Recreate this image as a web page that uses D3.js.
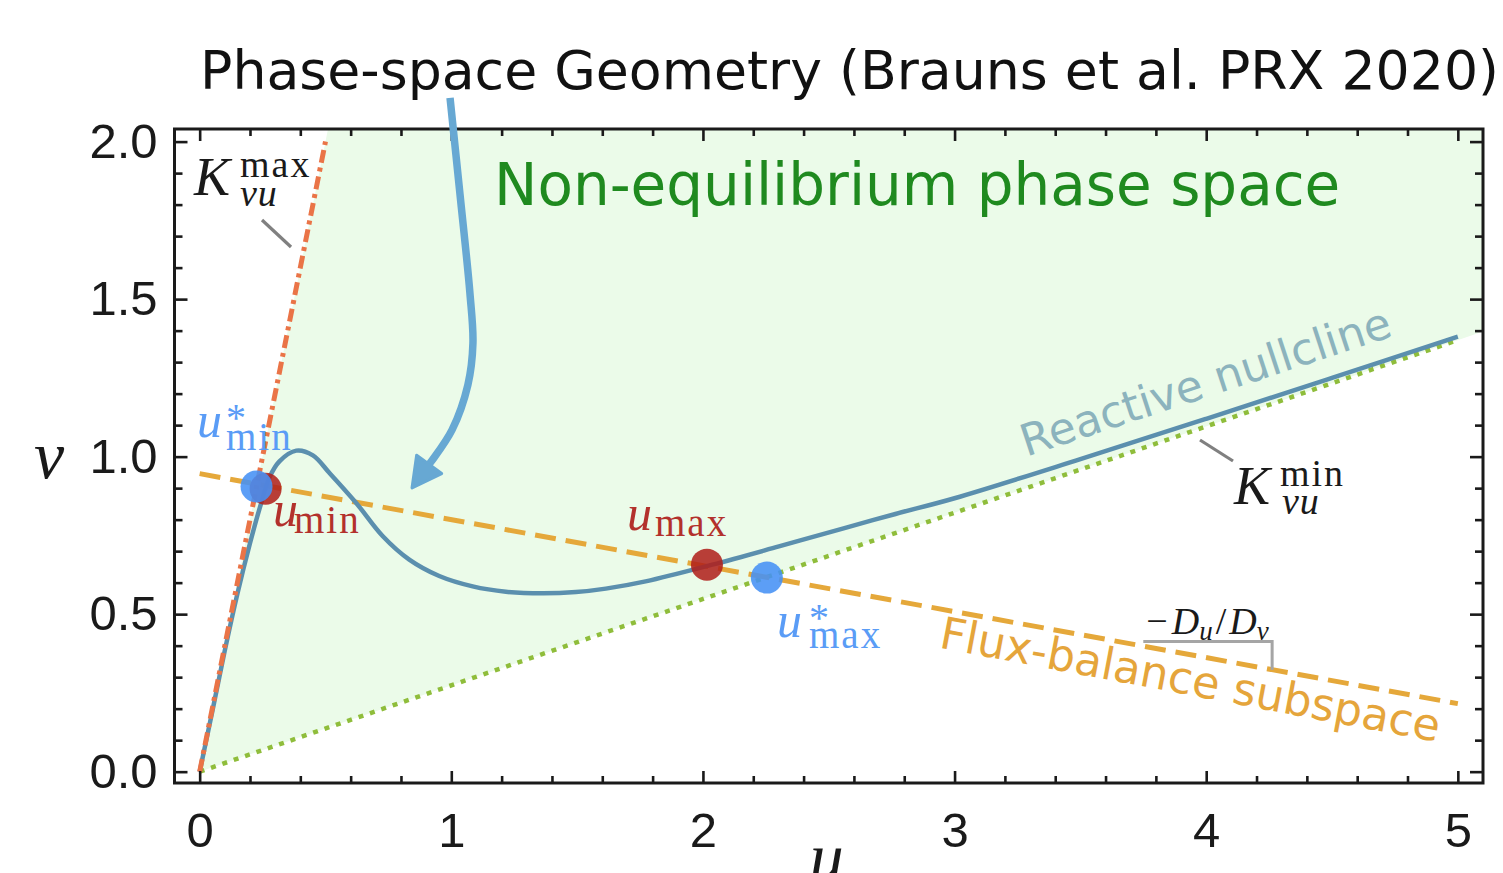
<!DOCTYPE html>
<html>
<head>
<meta charset="utf-8">
<script src="https://cdn.jsdelivr.net/npm/d3@7"></script>
<style>
  html, body { margin: 0; padding: 0; background: #ffffff; }
  svg { display: block; }
</style>
</head>
<body>
<svg id="chart" width="1503" height="873"></svg>
<script>
// ---- axes -------------------------------------------------------------
const xDomain = [-0.1, 5.1];
const yDomain = [-0.036, 2.04];
const xMajorTicks = [0, 1, 2, 3, 4, 5];
const yMajorTicks = [0.0, 0.5, 1.0, 1.5, 2.0];
const xMinorStep = 0.2;
const yMinorStep = 0.1;

// ---- reactive nullcline (u, v) ----------------------------------------
const nullcline = [
  [0.000, 0.000], [0.050, 0.190], [0.100, 0.385], [0.150, 0.565],
  [0.200, 0.725], [0.238, 0.835], [0.278, 0.935], [0.317, 0.985],
  [0.384, 1.019], [0.450, 1.004], [0.516, 0.948], [0.622, 0.853],
  [0.727, 0.748], [0.833, 0.673], [0.952, 0.621], [1.085, 0.588],
  [1.217, 0.571], [1.362, 0.566], [1.495, 0.570], [1.614, 0.581],
  [1.772, 0.604], [2.037, 0.657], [2.302, 0.715], [2.566, 0.774],
  [2.765, 0.818], [3.000, 0.868], [3.500, 0.992], [4.000, 1.120],
  [4.500, 1.250], [5.000, 1.381]
];

// ---- bounding lines through the origin ---------------------------------
const kMaxLine = [[0, 0], [0.5, 2.0]];      // v = K_vu^max u
const kMinLine = [[0, 0], [5.0, 1.37]];     // v = K_vu^min u

// ---- flux-balance subspace ---------------------------------------------
const fluxLine = [[0, 0.946], [5.0, 0.216]];

// ---- intersection markers ----------------------------------------------
const markerKind = ["lin", "lin", "star", "star"];
const markerU    = [0.262, 2.016, 0.226, 2.254];
const markerV    = [0.898, 0.657, 0.905, 0.616];

// ---- slope bracket (-D_u/D_v) ------------------------------------------
const bracketU = [3.75, 4.262];
const bracketV = 0.413;

// ---- pointer arrow from the title --------------------------------------
const arrowPath = [
  [0.995, 2.139], [1.034, 1.837], [1.074, 1.519], [1.086, 1.360],
  [1.066, 1.228], [1.003, 1.085], [0.919, 0.983], [0.844, 0.901]
];

// =======================================================================
const W = 1503, H = 873;
const plot = { left: 174.5, right: 1483, top: 129, bottom: 783 };

const svg = d3.select("#chart");
svg.append("rect").attr("width", W).attr("height", H).attr("fill", "#ffffff");

const x = d3.scaleLinear().domain(xDomain).range([plot.left, plot.right]);
const y = d3.scaleLinear().domain(yDomain).range([plot.bottom, plot.top]);

const defs = svg.append("defs");
defs.append("clipPath").attr("id", "plotClip")
  .append("rect")
  .attr("x", plot.left).attr("y", plot.top)
  .attr("width", plot.right - plot.left).attr("height", plot.bottom - plot.top);

const g = svg.append("g").attr("clip-path", "url(#plotClip)");
const line = d3.line().x(d => x(d[0])).y(d => y(d[1]));
const smooth = d3.line().x(d => x(d[0])).y(d => y(d[1])).curve(d3.curveCatmullRom.alpha(0.5));

// Non-equilibrium region: wedge between the two bounding lines
const kMaxSlope = kMaxLine[1][1] / kMaxLine[1][0];
const kMinSlope = kMinLine[1][1] / kMinLine[1][0];
const wedge = [
  [0, 0],
  [yDomain[1] / kMaxSlope, yDomain[1]],
  [xDomain[1], yDomain[1]],
  [xDomain[1], kMinSlope * xDomain[1]]
];
g.append("path")
  .attr("d", line(wedge) + "Z")
  .attr("fill", "#ebfbe9");

// K_vu^min (dotted)
g.append("path")
  .attr("d", line(kMinLine))
  .attr("fill", "none")
  .attr("stroke", "#8fbd3b")
  .attr("stroke-width", 4.5)
  .attr("stroke-dasharray", "5,7");

// Flux-balance subspace (dashed)
g.append("path")
  .attr("d", line(fluxLine))
  .attr("fill", "none")
  .attr("stroke", "#e5a83a")
  .attr("stroke-width", 5)
  .attr("stroke-dasharray", "21,10");

// Reactive nullcline
g.append("path")
  .attr("d", smooth(nullcline))
  .attr("fill", "none")
  .attr("stroke", "#5b8fae")
  .attr("stroke-width", 4.5)
  .attr("stroke-linejoin", "round");

// K_vu^max (dash-dot)
g.append("path")
  .attr("d", line(kMaxLine))
  .attr("fill", "none")
  .attr("stroke", "#ea7447")
  .attr("stroke-width", 5)
  .attr("stroke-dasharray", "13,5,4,5");

// Slope bracket
const fluxAt = u => fluxLine[0][1] + (fluxLine[1][1] - fluxLine[0][1]) * (u - fluxLine[0][0]) / (fluxLine[1][0] - fluxLine[0][0]);
g.append("path")
  .attr("d", line([[bracketU[0], bracketV], [bracketU[1], bracketV], [bracketU[1], fluxAt(bracketU[1])]]))
  .attr("fill", "none")
  .attr("stroke", "#a5a5a5")
  .attr("stroke-width", 3);

// Markers: red (u_min, u_max) beneath the blue starred ones
const markerFill = { lin: "rgba(176,30,26,0.86)", star: "rgba(70,145,245,0.88)" };
["lin", "star"].forEach(kind => {
  markerU.forEach((u, i) => {
    if (markerKind[i] !== kind) return;
    g.append("circle")
      .attr("cx", x(u)).attr("cy", y(markerV[i]))
      .attr("r", 16)
      .attr("fill", markerFill[kind]);
  });
});

// ---- frame and ticks ---------------------------------------------------
const tickColor = "#1a1a1a";
const xMinor = d3.range(0, 5.0001, xMinorStep).filter(t => !xMajorTicks.some(m => Math.abs(m - t) < 1e-6));
const yMinor = d3.range(0, 2.0001, yMinorStep).filter(t => !yMajorTicks.some(m => Math.abs(m - t) < 1e-6));

function styleAxis(sel) {
  sel.select(".domain").remove();
  sel.selectAll(".tick line").attr("stroke", tickColor).attr("stroke-width", 2.6);
  sel.selectAll(".tick text")
    .attr("fill", "#1a1a1a")
    .style("font-family", "'Liberation Sans', Arial, Helvetica, sans-serif")
    .style("font-size", "49px");
}

// bottom
svg.append("g").attr("transform", `translate(0,${plot.bottom})`)
  .call(d3.axisBottom(x).tickValues(xMajorTicks).tickSize(-12).tickPadding(29).tickFormat(d3.format("d")))
  .call(styleAxis);
svg.append("g").attr("transform", `translate(0,${plot.bottom})`)
  .call(d3.axisBottom(x).tickValues(xMinor).tickSize(-7).tickFormat(""))
  .call(styleAxis);
// top
svg.append("g").attr("transform", `translate(0,${plot.top})`)
  .call(d3.axisTop(x).tickValues(xMajorTicks).tickSize(-12).tickFormat(""))
  .call(styleAxis);
svg.append("g").attr("transform", `translate(0,${plot.top})`)
  .call(d3.axisTop(x).tickValues(xMinor).tickSize(-7).tickFormat(""))
  .call(styleAxis);
// left
svg.append("g").attr("transform", `translate(${plot.left},0)`)
  .call(d3.axisLeft(y).tickValues(yMajorTicks).tickSize(-13).tickPadding(17).tickFormat(d3.format(".1f")))
  .call(styleAxis);
svg.append("g").attr("transform", `translate(${plot.left},0)`)
  .call(d3.axisLeft(y).tickValues(yMinor).tickSize(-8).tickFormat(""))
  .call(styleAxis);
// right
svg.append("g").attr("transform", `translate(${plot.right},0)`)
  .call(d3.axisRight(y).tickValues(yMajorTicks).tickSize(-13).tickFormat(""))
  .call(styleAxis);
svg.append("g").attr("transform", `translate(${plot.right},0)`)
  .call(d3.axisRight(y).tickValues(yMinor).tickSize(-8).tickFormat(""))
  .call(styleAxis);

svg.append("rect")
  .attr("x", plot.left).attr("y", plot.top)
  .attr("width", plot.right - plot.left).attr("height", plot.bottom - plot.top)
  .attr("fill", "none").attr("stroke", tickColor).attr("stroke-width", 3);

// ---- axis labels -------------------------------------------------------
const serif = "'Liberation Serif', 'Times New Roman', serif";
const sans = "'DejaVu Sans', Verdana, sans-serif";

svg.append("text").text("v")
  .attr("x", 34).attr("y", 478)
  .style("font-family", serif).style("font-style", "italic").style("font-size", "68px")
  .attr("fill", "#1a1a1a");
svg.append("text").text("u")
  .attr("x", (plot.left + plot.right) / 2 - 2).attr("y", 880)
  .attr("text-anchor", "middle")
  .style("font-family", serif).style("font-style", "italic").style("font-size", "68px")
  .attr("fill", "#1a1a1a");

// ---- titles and region texts -------------------------------------------
svg.append("text").text("Phase-space Geometry (Brauns et al. PRX 2020)")
  .attr("x", 200).attr("y", 89)
  .style("font-family", sans).style("font-size", "53.7px")
  .attr("fill", "#111111");

svg.append("text").text("Non-equilibrium phase space")
  .attr("x", x(1.170)).attr("y", y(1.799))
  .style("font-family", sans).style("font-size", "58px")
  .attr("fill", "#1f8a1f");

function rotatedText(str, u, v, angle, size, color) {
  const px = x(u), py = y(v);
  svg.append("text").text(str)
    .attr("transform", `translate(${px},${py}) rotate(${angle})`)
    .style("font-family", sans).style("font-size", size + "px")
    .attr("fill", color);
}
rotatedText("Reactive nullcline", 3.285, 1.000, -18.2, 44, "#8cb3bd");
rotatedText("Flux-balance subspace", 2.934, 0.394, 10.7, 44.5, "#e5a53b");

// ---- math-style labels -------------------------------------------------
// one <text> per label: italic base letter, then scripts placed with absolute x/y
function mathLabel(opts) {
  const t = svg.append("text")
    .attr("fill", opts.color)
    .style("font-family", serif);
  t.append("tspan").text(opts.base)
    .attr("x", opts.x).attr("y", opts.y)
    .style("font-style", "italic")
    .style("font-size", opts.size + "px");
  (opts.parts || []).forEach(p => {
    t.append("tspan").text(p.text)
      .attr("x", opts.x + p.dx).attr("y", opts.y + p.dy)
      .style("font-style", p.italic ? "italic" : "normal")
      .style("font-size", p.size + "px")
      .style("letter-spacing", (p.spacing || 0) + "px");
  });
}

// K_vu^max
mathLabel({ base: "K", x: 194, y: 195, size: 54, color: "#1a1a1a", parts: [
  { text: "max", dx: 46, dy: -18, size: 38, spacing: 2 },
  { text: "vu",  dx: 46, dy: 11,  size: 38, italic: true, spacing: 1 } ] });
// K_vu^min
mathLabel({ base: "K", x: 1234, y: 504, size: 54, color: "#1a1a1a", parts: [
  { text: "min", dx: 46, dy: -18, size: 38, spacing: 2 },
  { text: "vu",  dx: 48, dy: 10,  size: 38, italic: true, spacing: 1 } ] });

// u_min, u_max
mathLabel({ base: "u", x: 273, y: 526, size: 50, color: "#b3312c", parts: [
  { text: "min", dx: 21, dy: 7, size: 39, spacing: 2 } ] });
mathLabel({ base: "u", x: 627, y: 530, size: 50, color: "#b3312c", parts: [
  { text: "max", dx: 28, dy: 6, size: 39, spacing: 2 } ] });

// u*_min, u*_max
mathLabel({ base: "u", x: 197, y: 437, size: 50, color: "#5a9cf6", parts: [
  { text: "*",   dx: 29, dy: -6, size: 40 },
  { text: "min", dx: 29, dy: 13, size: 39, spacing: 2 } ] });
mathLabel({ base: "u", x: 777, y: 637, size: 50, color: "#5a9cf6", parts: [
  { text: "*",   dx: 32, dy: -6, size: 40 },
  { text: "max", dx: 32, dy: 11, size: 39, spacing: 2 } ] });

// -D_u / D_v slope label
const slopeText = svg.append("text")
  .attr("x", x(bracketU[0]) + 3).attr("y", 634)
  .style("font-family", serif).style("font-size", "38px")
  .attr("fill", "#1a1a1a");
slopeText.append("tspan").text("\u2212");
slopeText.append("tspan").text("D").style("font-style", "italic").attr("dx", 4);
slopeText.append("tspan").text("u").style("font-style", "italic").style("font-size", "27px").attr("dy", 6);
slopeText.append("tspan").text("/").attr("dy", -6).attr("dx", 3);
slopeText.append("tspan").text("D").style("font-style", "italic").attr("dx", 3);
slopeText.append("tspan").text("v").style("font-style", "italic").style("font-size", "27px").attr("dy", 6);

// leader lines for K labels
svg.append("line")
  .attr("x1", 262).attr("y1", 220).attr("x2", 291).attr("y2", 247)
  .attr("stroke", "#808080").attr("stroke-width", 3.2);
svg.append("line")
  .attr("x1", 1200).attr("y1", 440).attr("x2", 1233).attr("y2", 461)
  .attr("stroke", "#808080").attr("stroke-width", 3.2);

// ---- pointer arrow -----------------------------------------------------
const arrowColor = "#67a8d3";
const shaft = arrowPath.slice(0, arrowPath.length - 1);
const tip = arrowPath[arrowPath.length - 1];
const prev = arrowPath[arrowPath.length - 2];
const tx = x(tip[0]), ty = y(tip[1]);
const dx = tx - x(prev[0]), dy = ty - y(prev[1]);
const len = Math.hypot(dx, dy);
const ux = dx / len, uy = dy / len;
const headLen = 29, headHalf = 15.5;
const bx = tx - ux * headLen, by = ty - uy * headLen;

svg.append("path")
  .attr("d", smooth(shaft.concat([[x.invert(bx + ux * 4), y.invert(by + uy * 4)]])))
  .attr("fill", "none")
  .attr("stroke", arrowColor)
  .attr("stroke-width", 7.5);
svg.append("path")
  .attr("d", `M${tx},${ty} L${bx - uy * headHalf},${by + ux * headHalf} L${bx + uy * headHalf},${by - ux * headHalf} Z`)
  .attr("fill", arrowColor)
  .attr("stroke", arrowColor)
  .attr("stroke-width", 3)
  .attr("stroke-linejoin", "round");
</script>
</body>
</html>
